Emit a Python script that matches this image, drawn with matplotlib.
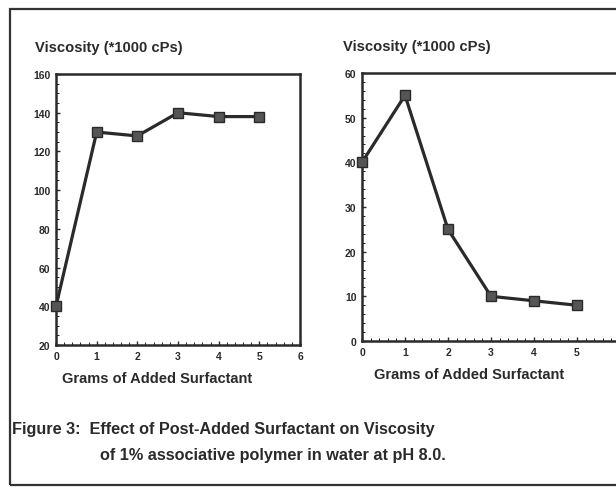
import matplotlib.pyplot as plt
from matplotlib.patches import Rectangle

plt.rcParams['font.family'] = ['Liberation Sans', 'DejaVu Sans']
plt.rcParams['font.weight'] = 'bold'
plt.rcParams['axes.labelweight'] = 'bold'

# surfactant added (grams)
grams = [0, 1, 2, 3, 4, 5]
# viscosity (*1000 cPs), left and right panels
visc_left = [40, 130, 128, 140, 138, 138]
visc_right = [40, 55, 25, 10, 9, 8]

left_yticks = [20, 40, 60, 80, 100, 120, 140, 160]
right_yticks = [0, 10, 20, 30, 40, 50, 60]
xticks = [0, 1, 2, 3, 4, 5, 6]

ink = '#2a2a2a'

fig = plt.figure(figsize=(6.16, 4.89), dpi=100)

# outer frame of the figure box (open on the right)
fig.patches.append(Rectangle((10/616, 1 - 486/489), 1.0, 476/489,
                             transform=fig.transFigure, fill=False,
                             lw=1.6, ec='#333333'))

ax1 = fig.add_axes([56/616, 1 - 346/489, 244/616, 271/489])
ax2 = fig.add_axes([362/616, 1 - 342/489, 258/616, 268/489])

panels = [(ax1, visc_left, left_yticks), (ax2, visc_right, right_yticks)]
for ax, vals, yt in panels:
    ax.plot(grams, vals, color=ink, lw=2.3, marker='s', ms=7,
            mfc='#555555', mec=ink, clip_on=False, zorder=3)
    ax.set_xlim(0, 6)
    ax.set_ylim(yt[0], yt[-1])
    ax.set_xticks(xticks)
    ax.set_yticks(yt)
    ax.tick_params(direction='in', length=3, width=1, labelsize=7.5, pad=4, colors=ink)
    ax.minorticks_on()
    ax.tick_params(which='minor', direction='in', length=2, width=0.6)
    for s in ax.spines.values():
        s.set_linewidth(1.8)
        s.set_color(ink)
    ax.set_xlabel('Grams of Added Surfactant', fontsize=10.5, color=ink)
    ax.xaxis.set_label_coords(0.414, -0.096)

ax2.spines['right'].set_visible(False)

fig.text(35/616, 1 - 48/489, 'Viscosity (*1000 cPs)', fontsize=10.6, color=ink, va='center')
fig.text(343/616, 1 - 47/489, 'Viscosity (*1000 cPs)', fontsize=10.6, color=ink, va='center')

fig.text(12/616, 1 - 430/489, 'Figure 3:  Effect of Post-Added Surfactant on Viscosity',
         fontsize=11.7, color=ink, va='center')
fig.text(100/616, 1 - 456/489, 'of 1% associative polymer in water at pH 8.0.',
         fontsize=11.7, color=ink, va='center')

fig.savefig('out.png', dpi=100)
